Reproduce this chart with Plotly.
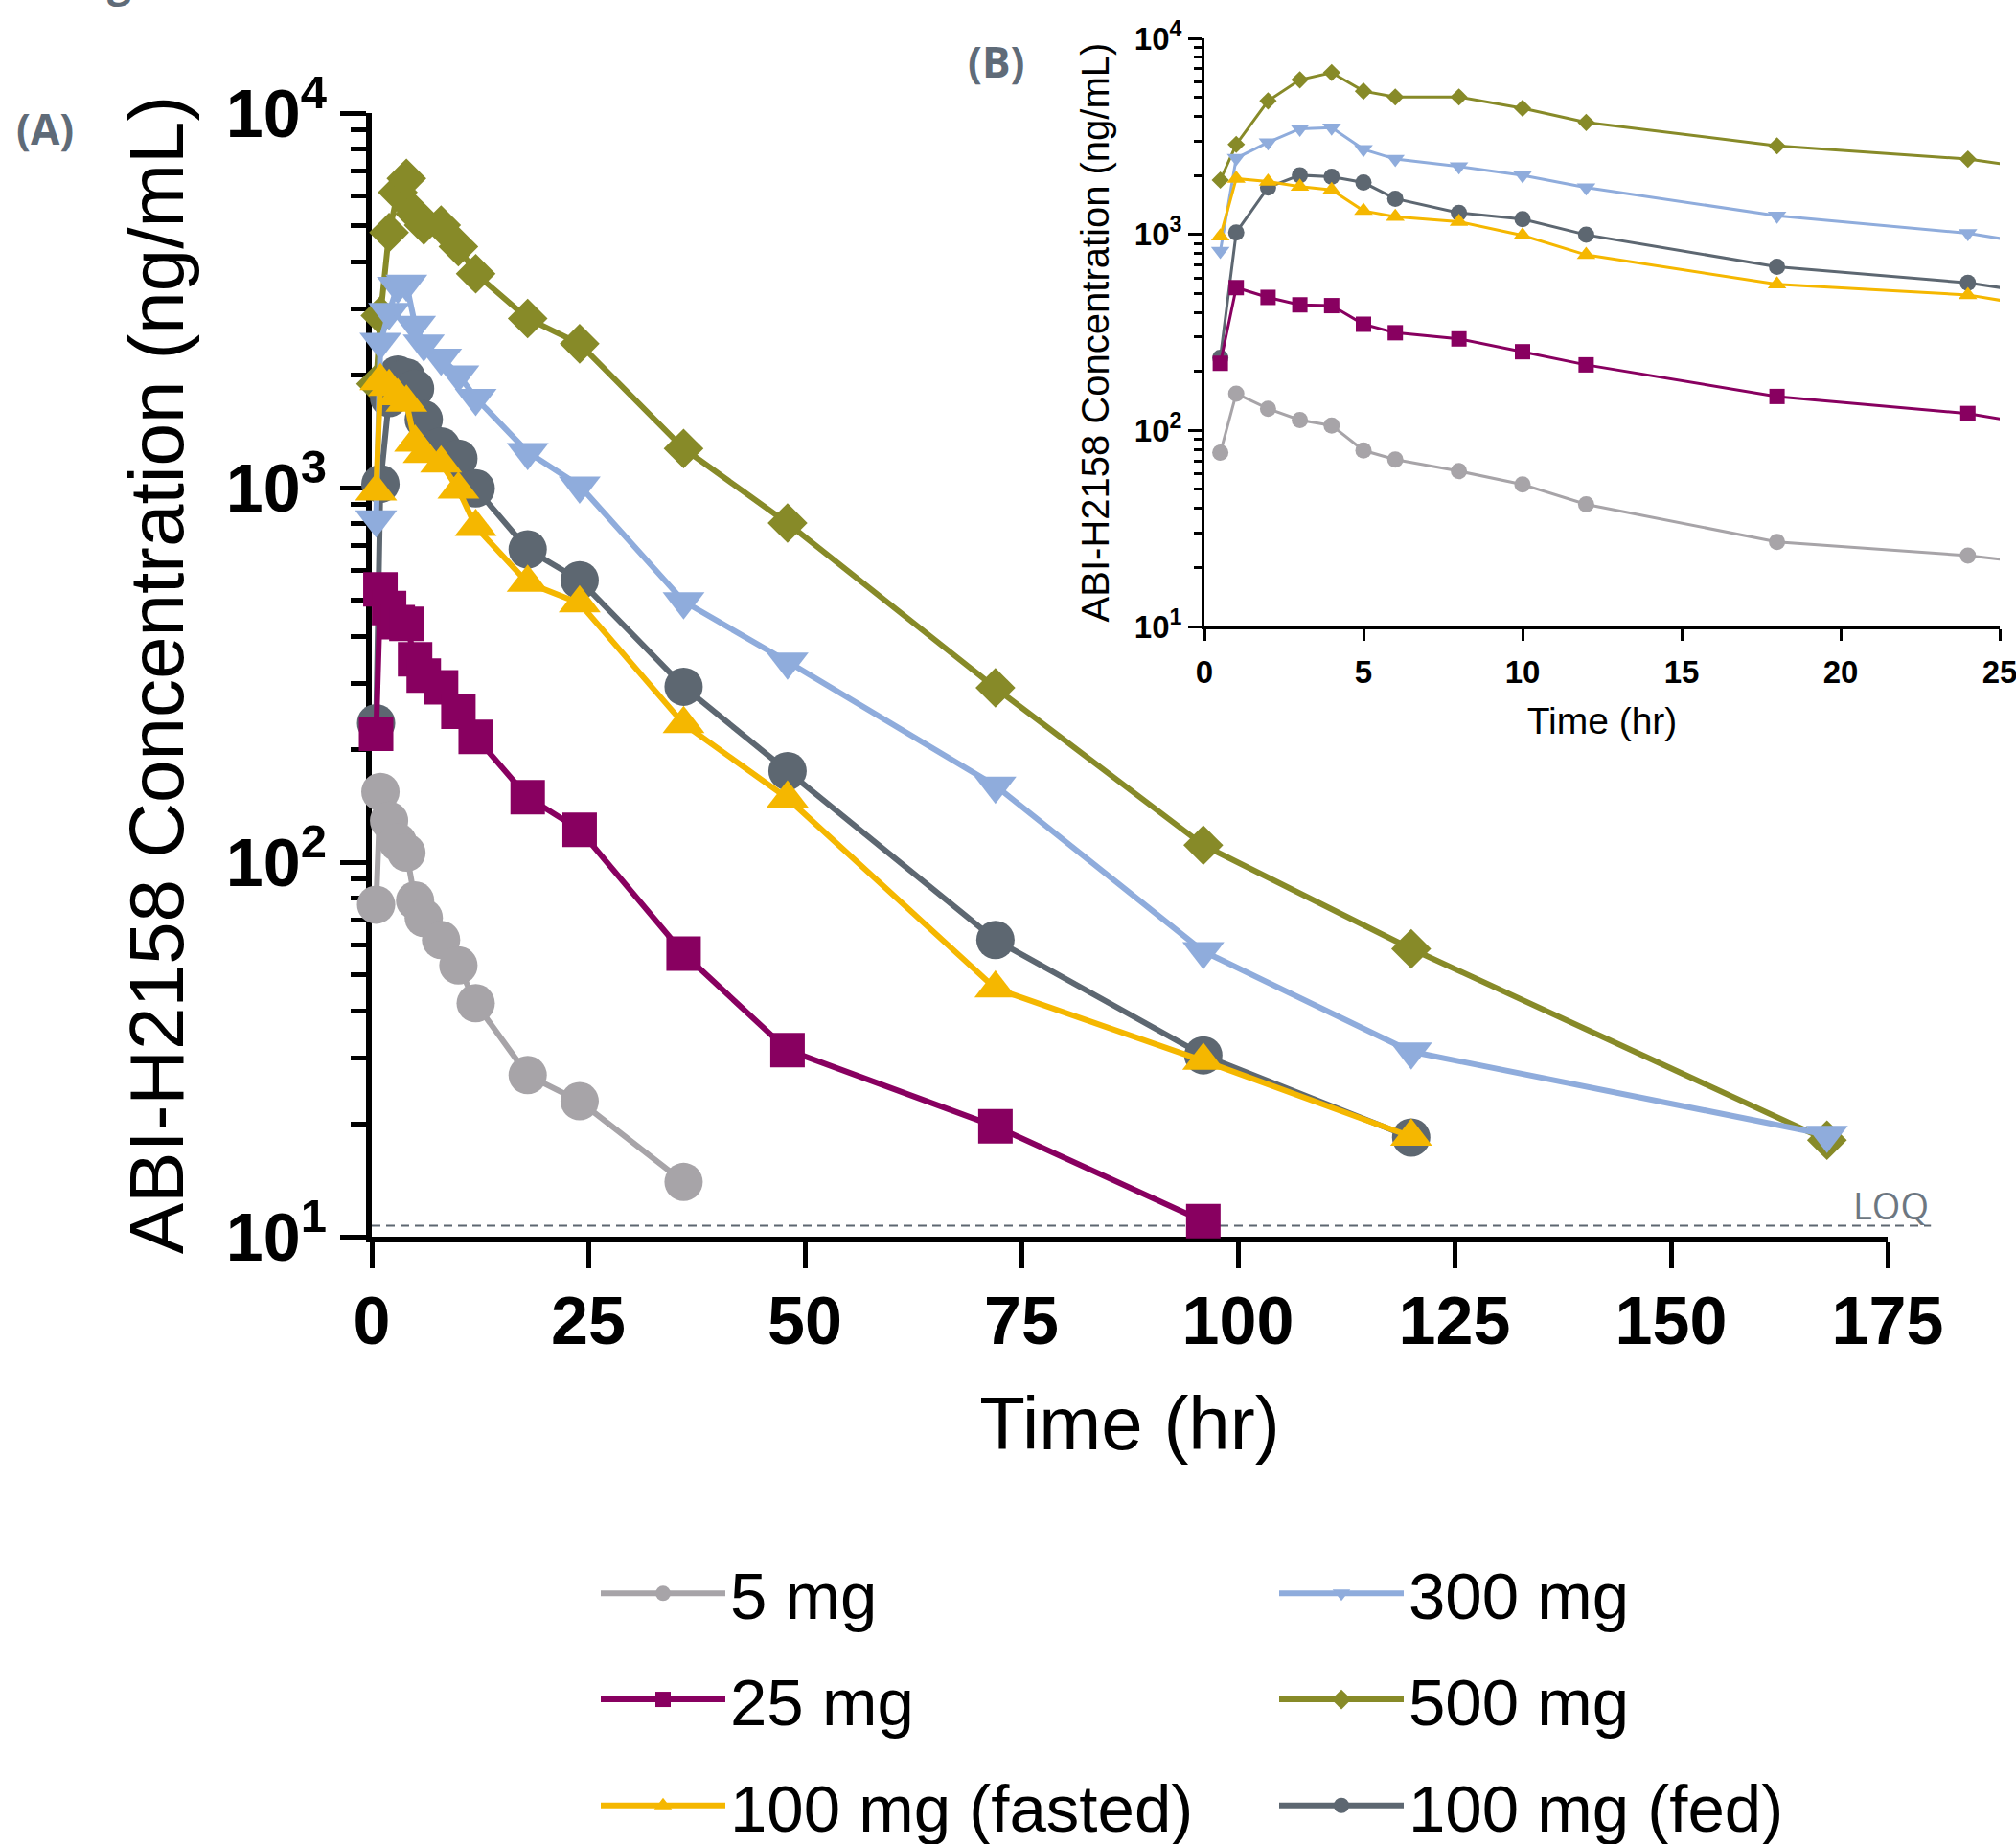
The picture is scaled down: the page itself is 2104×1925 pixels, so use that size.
import math
import plotly.graph_objects as go

# ---------------- data ----------------
TIME = [0.5, 1, 2, 3, 4, 5, 6, 8, 10, 12, 18, 24, 36, 48, 72, 96, 120, 168]
TIME_TICKS_MAIN = [0, 25, 50, 75, 100, 125, 150, 175]
TIME_TICKS_INSET = [0, 5, 10, 15, 20, 25]
CONC_TICKS = [10, 100, 1000, 10000]
CONC_TICK_LABELS = ["10<sup>1</sup>", "10<sup>2</sup>", "10<sup>3</sup>", "10<sup>4</sup>"]
LOQ = 10.7

conc_5mg = [77, 154, 129, 113, 106, 79, 71, 62, 53, 42, 27, 23, 14]
conc_25mg = [220, 535, 477, 437, 433, 348, 315, 293, 252, 216, 149, 122, 57, 31.5, 19.7, 11]
conc_100mg_fasted = [977, 1925, 1858, 1755, 1686, 1318, 1230, 1161, 988, 786, 557, 491, 234, 148, 46, 29.5, 18.5]
conc_100mg_fed = [235, 1023, 1735, 2004, 1968, 1838, 1521, 1288, 1195, 995, 684, 566, 294, 175, 62, 30.5, 18.4]
conc_300mg = [822, 2449, 2944, 3456, 3498, 2716, 2421, 2221, 2003, 1735, 1244, 1012, 497, 343, 160, 57.8, 31.2, 18.7]
conc_500mg = [1892, 2877, 4797, 6140, 6687, 5378, 5020, 5020, 4399, 3724, 2828, 2421, 1271, 804, 292, 111, 58.7, 18.1]

# draw order (bottom -> top)
series = [
    # name, values, color, symbol, main size, inset size, legend, rank
    ("500 mg", conc_500mg, "#878a28", "diamond", 32, 14, "legend2", 2),
    ("100 mg (fed)", conc_100mg_fed, "#5d6771", "circle", 40, 17, "legend2", 3),
    ("300 mg", conc_300mg, "#8facdc", "triangle-down", 38, 17, "legend2", 1),
    ("100 mg (fasted)", conc_100mg_fasted, "#f5b700", "triangle-up", 38, 17, "legend", 3),
    ("25 mg", conc_25mg, "#880060", "square", 36, 16, "legend", 2),
    ("5 mg", conc_5mg, "#a7a4a8", "circle", 40, 17, "legend", 1),
]

FONT = "Liberation Sans, Arial, Helvetica, sans-serif"

fig = go.Figure()
for name, vals, color, sym, s_main, s_inset, leg, rank in series:
    t = TIME[:len(vals)]
    fig.add_trace(go.Scatter(
        x=t, y=vals, name=name, mode="lines+markers",
        line=dict(color=color, width=6),
        marker=dict(symbol=sym, size=s_main, color=color),
        cliponaxis=False, legend=leg, legendrank=rank, legendgroup=name,
        xaxis="x", yaxis="y",
    ))
for name, vals, color, sym, s_main, s_inset, leg, rank in series:
    t = TIME[:len(vals)]
    fig.add_trace(go.Scatter(
        x=t, y=vals, name=name, mode="lines+markers",
        line=dict(color=color, width=3),
        marker=dict(symbol=sym, size=s_inset, color=color),
        showlegend=False, legendgroup=name,
        xaxis="x2", yaxis="y2",
    ))

minor_vals = [m * 10 ** e for e in range(1, 4) for m in range(2, 10)]

W, H = 2104, 1925
main_x = [388 / W, 1970 / W]
main_y = [1 - 1291 / H, 1 - 118 / H]
ins_x = [1257 / W, 2087 / W]
ins_y = [1 - 654 / H, 1 - 40 / H]

fig.update_layout(
    width=W, height=H, margin=dict(l=0, r=0, t=0, b=0, autoexpand=False),
    paper_bgcolor="white", plot_bgcolor="white",
    font=dict(family=FONT, color="black"),
    xaxis=dict(
        domain=main_x, range=[0, 175], tickmode="array", tickvals=TIME_TICKS_MAIN,
        showline=True, linewidth=6, linecolor="black", ticks="outside", ticklen=27,
        tickwidth=5, tickcolor="black", showgrid=False, zeroline=False, automargin=False,
        tickfont=dict(size=70, weight="bold", family=FONT), ticklabelstandoff=-5,
        title=dict(text="Time (hr)", font=dict(size=78, family=FONT), standoff=43),
        anchor="y", layer="below traces",
    ),
    yaxis=dict(
        domain=main_y, type="log", range=[1, 4], tickmode="array",
        tickvals=CONC_TICKS, ticktext=CONC_TICK_LABELS,
        showline=True, linewidth=6, linecolor="black", ticks="outside", ticklen=27,
        tickwidth=5, tickcolor="black", showgrid=False, zeroline=False, automargin=False,
        tickfont=dict(size=70, weight="bold", family=FONT), ticklabelstandoff=0,
        minor=dict(tickvals=minor_vals, ticks="outside", ticklen=16, tickwidth=5,
                   tickcolor="black", showgrid=False),
        title=dict(text="ABI-H2158 Concentration (ng/mL)", font=dict(size=80, family=FONT), standoff=20),
        anchor="x", layer="below traces",
    ),
    xaxis2=dict(
        domain=ins_x, range=[0, 25], tickmode="array", tickvals=TIME_TICKS_INSET,
        showline=True, linewidth=3, linecolor="black", ticks="outside", ticklen=12,
        tickwidth=3, tickcolor="black", showgrid=False, zeroline=False, automargin=False,
        tickfont=dict(size=33, weight="bold", family=FONT), ticklabelstandoff=4,
        ticklabeloverflow="allow",
        title=dict(text="Time (hr)", font=dict(size=39, family=FONT), standoff=21),
        anchor="y2",
    ),
    yaxis2=dict(
        domain=ins_y, type="log", range=[1, 4], tickmode="array",
        tickvals=CONC_TICKS, ticktext=CONC_TICK_LABELS,
        showline=True, linewidth=3, linecolor="black", ticks="outside", ticklen=14,
        tickwidth=3, tickcolor="black", showgrid=False, zeroline=False, automargin=False,
        tickfont=dict(size=33, weight="bold", family=FONT), ticklabelstandoff=0,
        minor=dict(tickvals=minor_vals, ticks="outside", ticklen=8, tickwidth=3,
                   tickcolor="black", showgrid=False),
        title=dict(text="ABI-H2158 Concentration (ng/mL)", font=dict(size=40, family=FONT), standoff=14),
        anchor="x2",
    ),
    legend=dict(x=622 / W, y=1 - 1612 / H, xanchor="left", yanchor="top",
                font=dict(size=69, family=FONT), itemwidth=130, tracegroupgap=18,
                bgcolor="rgba(0,0,0,0)", traceorder="grouped"),
    legend2=dict(x=1330 / W, y=1 - 1612 / H, xanchor="left", yanchor="top",
                 font=dict(size=69, family=FONT), itemwidth=130, tracegroupgap=18,
                 bgcolor="rgba(0,0,0,0)", traceorder="grouped"),
    showlegend=True,
)

# LOQ dashed line (extends slightly past the x axis end)
fig.add_shape(type="line", xref="x domain", yref="y", x0=0, x1=180 / 175, y0=LOQ, y1=LOQ,
              line=dict(color="#5d6771", width=2, dash="9px,6px"), layer="below")
fig.add_annotation(xref="x domain", yref="y", x=180 / 175, y=math.log10(LOQ),
                   xanchor="right", yanchor="bottom", text="LOQ", showarrow=False,
                   font=dict(size=38, color="#6d7781", family="Open Sans, " + FONT), yshift=-6)

# panel labels
fig.add_annotation(xref="paper", yref="paper", x=47 / W, y=1 - 134 / H, text="<b>(A)</b>",
                   showarrow=False, xanchor="center", yanchor="middle",
                   font=dict(size=44, color="#5f6b78", family="Open Sans, " + FONT))
fig.add_annotation(xref="paper", yref="paper", x=1039 / W, y=1 - 64 / H, text="<b>(B)</b>",
                   showarrow=False, xanchor="center", yanchor="middle",
                   font=dict(size=44, color="#5f6b78", family="Open Sans, " + FONT))
# cropped glyph at the very top edge
fig.add_annotation(xref="paper", yref="paper", x=124 / W, y=1 + 21 / H, text="<b>g</b>",
                   showarrow=False, xanchor="center", yanchor="middle",
                   font=dict(size=44, color="#5f6b78", family="Open Sans, " + FONT))

fig.write_html("out.html", config={"displayModeBar": False},
               post_script="document.body.style.margin='0';")
